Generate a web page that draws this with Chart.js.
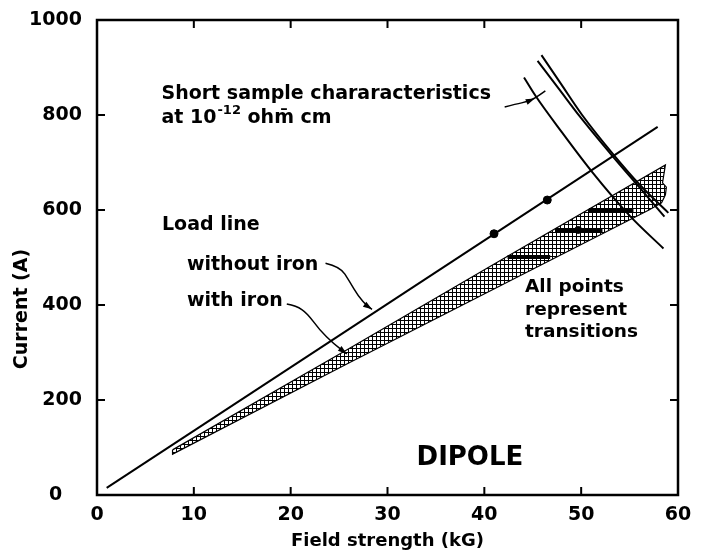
<!DOCTYPE html>
<html>
<head>
<meta charset="utf-8">
<script src="https://cdn.jsdelivr.net/npm/chart.js@4.4.1/dist/chart.umd.min.js"></script>
<style>
html, body { margin: 0; padding: 0; background: #fff; }
canvas { display: block; }
</style>
</head>
<body>
<canvas id="chart" width="701" height="555"></canvas>
<script>
// axis ticks
const xTicks = [10, 20, 30, 40, 50];
const yTicks = [200, 400, 600, 800];

// load line without iron (field kG, current A)
const loadLine = [{x: 1, y: 15}, {x: 57.9, y: 775}];
const loadLineDots = [{x: 41.0, y: 550}, {x: 46.5, y: 621}];

// hatched band: load line with iron
const ironUpper = [{x: 7.8, y: 95}, {x: 26, y: 308}, {x: 41.6, y: 493}, {x: 58.7, y: 695}];
const ironEnd = [{x: 58.4, y: 657}, {x: 58.8, y: 648}, {x: 58.7, y: 632}, {x: 58.3, y: 615}];
const ironLower = [{x: 57, y: 600}, {x: 41.6, y: 440}, {x: 26, y: 278}, {x: 7.8, y: 86}];

// transitions inside the band
const barLow = [{x: 42.4, y: 501}, {x: 46.8, y: 501}];
const barMid = [{x: 47.3, y: 558}, {x: 52.2, y: 558}];
const barHigh = [{x: 50.8, y: 600}, {x: 55.4, y: 600}];
const barDots = [{x: 49.7, y: 558}];

// short sample characteristics
const shortA = [{x: 44.1, y: 879}, {x: 45.3, y: 840}, {x: 48, y: 764}, {x: 51.1, y: 681}, {x: 55.1, y: 586}, {x: 58.5, y: 519}];
const shortB = [{x: 45.5, y: 914}, {x: 47.7, y: 855}, {x: 49.9, y: 796}, {x: 53.3, y: 712}, {x: 56, y: 648}, {x: 58.6, y: 586}];
const shortC = [{x: 45.9, y: 926}, {x: 47.9, y: 866}, {x: 50.1, y: 800}, {x: 53.4, y: 715}, {x: 56.1, y: 652}, {x: 59.0, y: 594}];

// annotation arrows (arrow head at index "head")
const arrowShort = [[42.1, 817], [43.3, 823], [44.4, 828], [45.2, 835], [46.3, 851]];
const arrowWithout = [[23.6, 488], [25.1, 481], [26.1, 449], [27.0, 418], [27.9, 398], [28.4, 391]];
const arrowWith = [[19.6, 402], [20.6, 398], [21.7, 383], [23.0, 347], [24.4, 319], [25.8, 297]];

const labels = [
    {text: 'Short sample chararacteristics', x: 6.66, y: 834, size: 19},
    {text: 'Load line', x: 6.71, y: 558, size: 19},
    {text: 'without iron', x: 9.29, y: 474, size: 19},
    {text: 'with iron', x: 9.29, y: 398, size: 19},
    {text: 'All points', x: 44.2, y: 428, size: 18.5},
    {text: 'represent', x: 44.2, y: 379, size: 18.5},
    {text: 'transitions', x: 44.2, y: 333, size: 18.5},
    {text: 'DIPOLE', x: 33.0, y: 63, size: 26}
];

const FONT = "'DejaVu Sans'";

function crossHatch() {
    const c = document.createElement('canvas');
    c.width = 4; c.height = 4;
    const g = c.getContext('2d');
    g.fillStyle = '#fff';
    g.fillRect(0, 0, 4, 4);
    g.fillStyle = '#000';
    g.fillRect(0, 0, 4, 1);
    g.fillRect(0, 0, 1, 4);
    return g.createPattern(c, 'repeat');
}

function line(data, width) {
    return {data, showLine: true, borderColor: '#000', borderWidth: width, pointRadius: 0, fill: false};
}

function curve(data) {
    return {data, showLine: true, borderColor: '#000', borderWidth: 2, pointRadius: 0, cubicInterpolationMode: 'monotone', fill: false};
}

const band = [...ironUpper, ...ironEnd, ...ironLower, ironUpper[0]];

function drawArrow(ctx, xs, ys, pts, head) {
    const p = pts.map(([x, y]) => [xs.getPixelForValue(x), ys.getPixelForValue(y)]);
    ctx.beginPath();
    ctx.moveTo(p[0][0], p[0][1]);
    for (let i = 1; i < p.length - 1; i++) {
        const mx = (p[i][0] + p[i + 1][0]) / 2, my = (p[i][1] + p[i + 1][1]) / 2;
        ctx.quadraticCurveTo(p[i][0], p[i][1], mx, my);
    }
    ctx.lineTo(p[p.length - 1][0], p[p.length - 1][1]);
    ctx.stroke();
    const tip = p[head], prev = p[head - 1];
    const a = Math.atan2(tip[1] - prev[1], tip[0] - prev[0]);
    ctx.beginPath();
    ctx.moveTo(tip[0], tip[1]);
    ctx.lineTo(tip[0] - 9 * Math.cos(a) + 3 * Math.sin(a), tip[1] - 9 * Math.sin(a) - 3 * Math.cos(a));
    ctx.lineTo(tip[0] - 9 * Math.cos(a) - 3 * Math.sin(a), tip[1] - 9 * Math.sin(a) + 3 * Math.cos(a));
    ctx.closePath();
    ctx.fill();
}

const decor = {
    id: 'decor',
    afterDatasetsDraw(chart) {
        const ctx = chart.ctx;
        const {left, right, top, bottom} = chart.chartArea;
        const xs = chart.scales.x, ys = chart.scales.y;
        ctx.save();
        ctx.strokeStyle = '#000';
        ctx.fillStyle = '#000';

        // frame
        ctx.lineWidth = 2.5;
        ctx.strokeRect(left, top, right - left, bottom - top);

        // inward ticks on all four sides
        ctx.lineWidth = 2;
        ctx.beginPath();
        xTicks.forEach(v => {
            const px = xs.getPixelForValue(v);
            ctx.moveTo(px, bottom); ctx.lineTo(px, bottom - 8);
            ctx.moveTo(px, top); ctx.lineTo(px, top + 8);
        });
        yTicks.forEach(v => {
            const py = ys.getPixelForValue(v);
            ctx.moveTo(left, py); ctx.lineTo(left + 8, py);
            ctx.moveTo(right, py); ctx.lineTo(right - 8, py);
        });
        ctx.stroke();

        // arrows
        ctx.lineWidth = 1.5;
        drawArrow(ctx, xs, ys, arrowShort, 3);
        drawArrow(ctx, xs, ys, arrowWithout, 5);
        drawArrow(ctx, xs, ys, arrowWith, 5);

        // labels
        ctx.textAlign = 'left';
        ctx.textBaseline = 'alphabetic';
        labels.forEach(l => {
            ctx.font = `bold ${l.size}px ${FONT}`;
            ctx.fillText(l.text, xs.getPixelForValue(l.x), ys.getPixelForValue(l.y));
        });

        // "at 10^-12 ohm cm"
        let px = xs.getPixelForValue(6.66);
        const py = ys.getPixelForValue(783);
        ctx.font = `bold 19px ${FONT}`;
        ctx.fillText('at 10', px, py);
        px += ctx.measureText('at 10').width + 1;
        ctx.font = `bold 13px ${FONT}`;
        ctx.fillText('-12', px, py - 9);
        px += ctx.measureText('-12').width;
        ctx.font = `bold 19px ${FONT}`;
        ctx.fillText(' ohm\u0304 cm', px, py);

        // y axis title
        ctx.translate(22, 309);
        ctx.rotate(-Math.PI / 2);
        ctx.textAlign = 'center';
        ctx.textBaseline = 'middle';
        ctx.font = `bold 19px ${FONT}`;
        ctx.fillText('Current (A)', 0, 0);
        ctx.restore();
    }
};

const tickFont = {family: FONT, size: 19, weight: 'bold'};

// datasets are painted last-to-first, so the hatched band goes at the end (bottom layer)
new Chart(document.getElementById('chart'), {
    type: 'scatter',
    data: {
        datasets: [
            {data: loadLineDots, pointRadius: 4, backgroundColor: '#000', borderColor: '#000'},
            {data: barDots, pointRadius: 3.5, backgroundColor: '#000', borderColor: '#000'},
            line(barLow, 4),
            line(barMid, 4),
            line(barHigh, 4),
            line(loadLine, 2),
            curve(shortA),
            curve(shortB),
            curve(shortC),
            {data: band, showLine: true, borderColor: '#000', borderWidth: 1.2, pointRadius: 0,
             backgroundColor: crossHatch(), fill: 'shape'}
        ]
    },
    options: {
        responsive: false,
        animation: false,
        devicePixelRatio: 1,
        layout: {padding: {top: 20, right: 23, left: 0, bottom: 0}},
        plugins: {legend: {display: false}, tooltip: {enabled: false}},
        scales: {
            x: {
                type: 'linear', min: 0, max: 60,
                grid: {display: false},
                border: {display: false},
                ticks: {stepSize: 10, color: '#000', font: tickFont, padding: 1, maxRotation: 0},
                title: {display: true, text: 'Field strength (kG)', color: '#000',
                        font: {family: FONT, size: 18, weight: 'bold'}, padding: {top: 0, bottom: 3}},
                afterFit: s => { s.height = 60; }
            },
            y: {
                type: 'linear', min: 0, max: 1000,
                grid: {display: false},
                border: {display: false},
                ticks: {stepSize: 200, color: '#000', font: tickFont, padding: 7,
                        callback: v => v === 0 ? '0   ' : String(v)},
                afterFit: s => { s.width = 97; }
            }
        }
    },
    plugins: [decor]
});
</script>
</body>
</html>
